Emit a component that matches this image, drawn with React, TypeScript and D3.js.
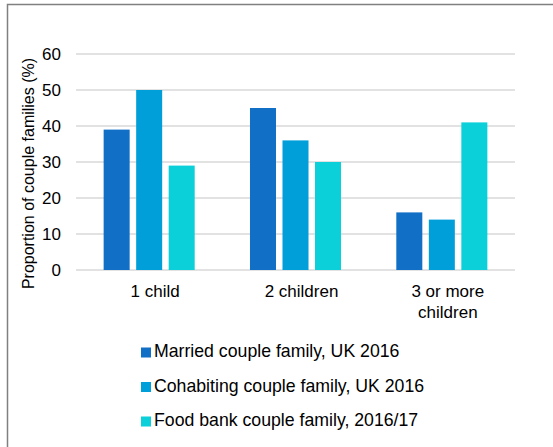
import React from "react";
import * as d3 from "d3";

const categories: string[][] = [["1 child"], ["2 children"], ["3 or more", "children"]];
const seriesNames = [
  "Married couple family, UK 2016",
  "Cohabiting couple family, UK 2016",
  "Food bank couple family, 2016/17",
];
const married = [39, 45, 16];
const cohabiting = [50, 36, 14];
const foodBank = [29, 30, 41];
const yTicks = [0, 10, 20, 30, 40, 50, 60];
const colors = ["#1170c6", "#009fda", "#0bd0d9"];

export default function App() {
  const W = 553, H = 447;
  const left = 76, right = 515, top = 54, bottom = 270;
  const series = [married, cohabiting, foodBank];
  const catKeys = categories.map((c) => c.join(" "));
  const x0 = d3.scaleBand<string>().domain(catKeys).range([left, right]).paddingInner(1 / 3).paddingOuter(1 / 6);
  const x1 = d3.scaleBand<string>().domain(seriesNames).range([0, x0.bandwidth()]).paddingInner(0.2).paddingOuter(0.1);
  const y = d3.scaleLinear().domain([0, 60]).range([bottom, top]);
  const font = "'Liberation Sans', Arial, sans-serif";
  return (
    <svg width={W} height={H} style={{ position: "absolute", left: 0, top: 0 }} fontFamily={font}>
      <rect x={0} y={0} width={W} height={H} fill="#fff" />
      <rect x={7.5} y={4.5} width={W + 10} height={H + 10} fill="none" stroke="#808080" strokeWidth={1.5} />
      {yTicks.map((t) => (
        <g key={t}>
          <line x1={left} x2={right} y1={y(t)} y2={y(t)} stroke="#d9d9d9" strokeWidth={1.3} />
          <text x={61} y={y(t) + 6} textAnchor="end" fontSize={17} fill="#000">{t}</text>
        </g>
      ))}
      {catKeys.map((c, ci) => (
        <g key={c} transform={`translate(${x0(c)},0)`}>
          {seriesNames.map((s, si) => (
            <rect key={s} x={x1(s)} y={y(series[si][ci])} width={x1.bandwidth()} height={y(0) - y(series[si][ci])} fill={colors[si]} />
          ))}
          {categories[ci].map((line, li) => (
            <text key={li} x={x0.bandwidth() / 2 + 6} y={297 + li * 20.5} textAnchor="middle" fontSize={17} fill="#000">{line}</text>
          ))}
        </g>
      ))}
      <text transform={`translate(34,173.5) rotate(-90)`} textAnchor="middle" fontSize={16} fill="#000">Proportion of couple families (%)</text>
      {seriesNames.map((s, si) => (
        <g key={s} transform={`translate(141,${347.5 + si * 34.5})`}>
          <rect x={0} y={0} width={10} height={10} fill={colors[si]} />
          <text x={13} y={9.5} fontSize={17.7} fill="#000">{s}</text>
        </g>
      ))}
    </svg>
  );
}
